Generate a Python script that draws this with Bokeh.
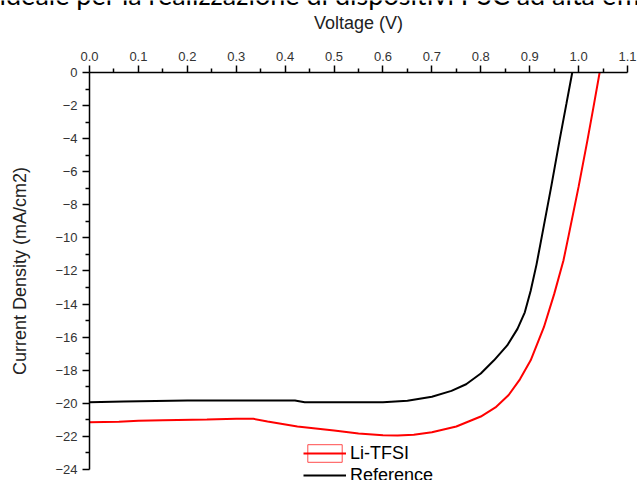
from bokeh.plotting import figure
from bokeh.models import (LinearAxis, FixedTicker, PrintfTickFormatter, Range1d,
                          Legend, LegendItem)
from bokeh.core.properties import value
from bokeh.embed import file_html
from bokeh.resources import INLINE

# ---- data ----
ref_v = [0.0, 0.07, 0.2, 0.42, 0.44, 0.6, 0.65, 0.7, 0.74, 0.77, 0.8, 0.827,
         0.854, 0.875, 0.89, 0.902, 0.914, 0.926, 0.944, 0.961, 0.975, 0.987]
ref_j = [-19.93, -19.89, -19.83, -19.83, -19.93, -19.93, -19.85, -19.6, -19.25,
         -18.85, -18.2, -17.4, -16.5, -15.5, -14.5, -13.2, -11.6, -9.73, -6.9,
         -4.1, -1.9, 0.0]

li_v = [0.0, 0.06, 0.1, 0.15, 0.24, 0.3, 0.335, 0.364, 0.425, 0.5, 0.55, 0.6,
        0.63, 0.663, 0.7, 0.75, 0.8, 0.83, 0.857, 0.88, 0.902, 0.929, 0.95,
        0.969, 0.98, 1.0, 1.018, 1.03, 1.043]
li_j = [-21.14, -21.12, -21.06, -21.02, -20.98, -20.94, -20.94, -21.1, -21.4,
        -21.65, -21.82, -21.93, -21.95, -21.9, -21.75, -21.4, -20.8, -20.25,
        -19.5, -18.55, -17.4, -15.4, -13.4, -11.37, -9.8, -6.9, -4.1, -2.15, 0.0]

x_ticks = [0.0, 0.1, 0.2, 0.3, 0.4, 0.5, 0.6, 0.7, 0.8, 0.9, 1.0, 1.1]
x_minor = [0.05, 0.15, 0.25, 0.35, 0.45, 0.55, 0.65, 0.75, 0.85, 0.95, 1.05]
y_ticks = [-24, -22, -20, -18, -16, -14, -12, -10, -8, -6, -4, -2, 0]
y_minor = [-23, -21, -19, -17, -15, -13, -11, -9, -7, -5, -3, -1]

series_names = ["Li-TFSI", "Reference"]
doc_text = "ideale per la realizzazione di dispositivi PSC ad alta efficienza"

FONT = "Liberation Sans"

# the plotting frame covers the whole canvas; the axes sit at V=0 and J=0
p = figure(width=637, height=480, output_backend="svg", toolbar_location=None,
           x_range=Range1d(-0.182, 1.1204), y_range=Range1d(-24.667, 4.353),
           x_axis_location=None, y_axis_location=None,
           min_border_left=0, min_border_top=0, min_border_right=0,
           min_border_bottom=0)
p.outline_line_color = None
p.xgrid.visible = False
p.ygrid.visible = False
p.background_fill_color = "white"
p.border_fill_color = "white"

xa = LinearAxis(ticker=FixedTicker(ticks=x_ticks, minor_ticks=x_minor),
                formatter=PrintfTickFormatter(format="%.1f"),
                axis_label="Voltage (V)", bounds=(0, 1.1), fixed_location=0)
ya = LinearAxis(ticker=FixedTicker(ticks=y_ticks, minor_ticks=y_minor),
                axis_label="Current Density (mA/cm2)", bounds=(-24, 0),
                fixed_location=0)
for ax in (xa, ya):
    ax.axis_line_width = 1.5
    ax.axis_line_color = "black"
    ax.major_tick_line_width = 1.5
    ax.minor_tick_line_width = 1.5
    ax.major_tick_out = 7
    ax.major_tick_in = 0
    ax.minor_tick_out = 4
    ax.minor_tick_in = 0
    ax.major_label_text_font = FONT
    ax.major_label_text_font_size = "13px"
    ax.major_label_text_color = "#333333"
    ax.axis_label_text_font = FONT
    ax.axis_label_text_font_size = "18px"
    ax.axis_label_text_font_style = "normal"
    ax.axis_label_text_color = "#222222"
xa.major_label_standoff = 5
xa.axis_label_standoff = 16
ya.major_label_standoff = 5
ya.axis_label_standoff = 22
p.add_layout(xa, "above")
p.add_layout(ya, "left")

box = p.rect(x=[float("nan")], y=[float("nan")], width=0.1, height=1,
             fill_alpha=0, line_color="red", line_alpha=0.7, line_width=1)
red = p.line(li_v, li_j, line_color="red", line_width=2)
blk = p.line(ref_v, ref_j, line_color="black", line_width=2)

legend = Legend(items=[LegendItem(label=series_names[0], renderers=[box, red]),
                       LegendItem(label=series_names[1], renderers=[blk])],
                location=(303, -6), padding=0, margin=0, spacing=0,
                glyph_width=43, glyph_height=22, label_standoff=4,
                label_text_font=FONT, label_text_font_size="18px",
                label_text_color="black", border_line_alpha=0,
                background_fill_alpha=0)
p.add_layout(legend, "center")

# line of the surrounding document, cut off at the top edge
p.text(x=[-0.184], y=[4.74], text=[doc_text], text_font=value("Lato"),
       text_font_size="27px", text_color="black",
       text_baseline="alphabetic", text_align="left")

open("out.html", "w").write(file_html(p, INLINE))
